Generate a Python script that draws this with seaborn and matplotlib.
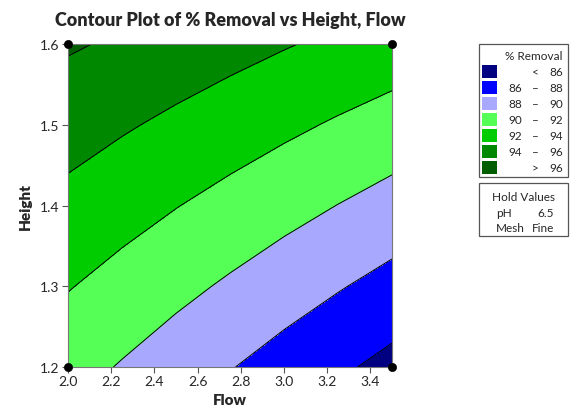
import numpy as np
import pandas as pd
import matplotlib
matplotlib.use("Agg")
import matplotlib.pyplot as plt
import seaborn as sns
from matplotlib.patches import Rectangle

# ---- data ----
flow = [2.0, 2.25, 2.5, 2.75, 3.0, 3.25, 3.5]
height = [1.2, 1.3, 1.4, 1.5, 1.6]
removal = [
    [90.74, 89.86, 88.97, 88.09, 87.20, 86.32, 85.43],   # H = 1.2
    [92.10, 91.31, 90.52, 89.73, 88.93, 88.14, 87.35],   # H = 1.3
    [93.46, 92.76, 92.06, 91.37, 90.67, 89.97, 89.27],   # H = 1.4
    [94.82, 94.21, 93.61, 93.01, 92.40, 91.79, 91.19],   # H = 1.5
    [96.21, 95.73, 95.16, 94.65, 94.13, 93.62, 93.11],   # H = 1.6
]
design_flow = [2.0, 3.5, 2.0, 3.5]
design_height = [1.2, 1.2, 1.6, 1.6]
levels = [80, 86, 88, 90, 92, 94, 96, 100]
band_colors = ["#000080", "#0000FF", "#A8A8FF", "#55FF55", "#00CC00", "#008800", "#005E00"]
legend_lo = ["", "86", "88", "90", "92", "94", ""]
legend_mid = ["<", "\u2013", "\u2013", "\u2013", "\u2013", "\u2013", ">"]
legend_hi = ["86", "88", "90", "92", "94", "96", "96"]
xticks = [2.0, 2.2, 2.4, 2.6, 2.8, 3.0, 3.2, 3.4]
yticks = [1.2, 1.3, 1.4, 1.5, 1.6]

sns.set_style("white")
plt.rcParams["font.family"] = ["Lato", "DejaVu Sans"]

fig = plt.figure(figsize=(5.75, 4.10), dpi=100)
ax = fig.add_axes([0.1183, 0.1024, 0.5635, 0.7878])

X, Y = np.meshgrid(flow, height)
Z = np.array(removal)
ax.contourf(X, Y, Z, levels=levels, colors=band_colors)
ax.contour(X, Y, Z, levels=levels[1:-1], colors="black", linewidths=0.7)

pts = pd.DataFrame({"Flow": design_flow, "Height": design_height})
sns.scatterplot(data=pts, x="Flow", y="Height", ax=ax, color="black", s=35,
                edgecolor="black", zorder=5, clip_on=False, legend=False)

ax.set_xlim(2.0, 3.5)
ax.set_ylim(1.2, 1.6)
ax.set_xticks(xticks)
ax.set_xticklabels([f"{v:.1f}" for v in xticks])
ax.set_yticks(yticks)
ax.set_yticklabels([f"{v:.1f}" for v in yticks])
ax.tick_params(axis="both", direction="out", length=4, width=0.8, color="#555555",
               labelsize=10, bottom=True, left=True, pad=2)
for sp in ax.spines.values():
    sp.set_color("#777777")
    sp.set_linewidth(0.8)
ax.set_xlabel("Flow", fontsize=11, fontweight="heavy", labelpad=4)
ax.set_ylabel("Height", fontsize=11, fontweight="heavy", labelpad=6)
ax.set_title("Contour Plot of % Removal vs Height, Flow", fontsize=13,
             fontweight="heavy", pad=14)

# ---- legend boxes (figure pixel coords) ----
W, H = 575, 410
def fx(x):
    return x / W
def fy(y):
    return 1 - y / H

fig.patches.append(Rectangle((fx(479), fy(178)), (568 - 479) / W, (178 - 45) / H,
                             transform=fig.transFigure, fill=False,
                             edgecolor="#555555", linewidth=0.9))
fig.text(fx(534), fy(57), "% Removal", fontsize=8.5, ha="center", va="center")
row_y = [72.5, 88.5, 104.5, 120.5, 136.5, 152.5, 168.5]
for i, c in enumerate(band_colors):
    y = row_y[i]
    fig.patches.append(Rectangle((fx(482), fy(y + 6.5)), 15 / W, 13 / H,
                                 transform=fig.transFigure, facecolor=c,
                                 edgecolor="none"))
    if legend_lo[i]:
        fig.text(fx(508), fy(y), legend_lo[i], fontsize=8.5, ha="left", va="center")
    fig.text(fx(535), fy(y), legend_mid[i], fontsize=8.5, ha="center", va="center")
    fig.text(fx(563), fy(y), legend_hi[i], fontsize=8.5, ha="right", va="center")

fig.patches.append(Rectangle((fx(479), fy(237)), (568 - 479) / W, (237 - 184) / H,
                             transform=fig.transFigure, fill=False,
                             edgecolor="#555555", linewidth=0.9))
fig.text(fx(524), fy(198), "Hold Values", fontsize=8.5, ha="center", va="center")
fig.text(fx(496), fy(214), "pH", fontsize=8.5, ha="left", va="center")
fig.text(fx(554), fy(214), "6.5", fontsize=8.5, ha="right", va="center")
fig.text(fx(496), fy(228.5), "Mesh", fontsize=8.5, ha="left", va="center")
fig.text(fx(554), fy(228.5), "Fine", fontsize=8.5, ha="right", va="center")

fig.savefig("out.png", dpi=100)
